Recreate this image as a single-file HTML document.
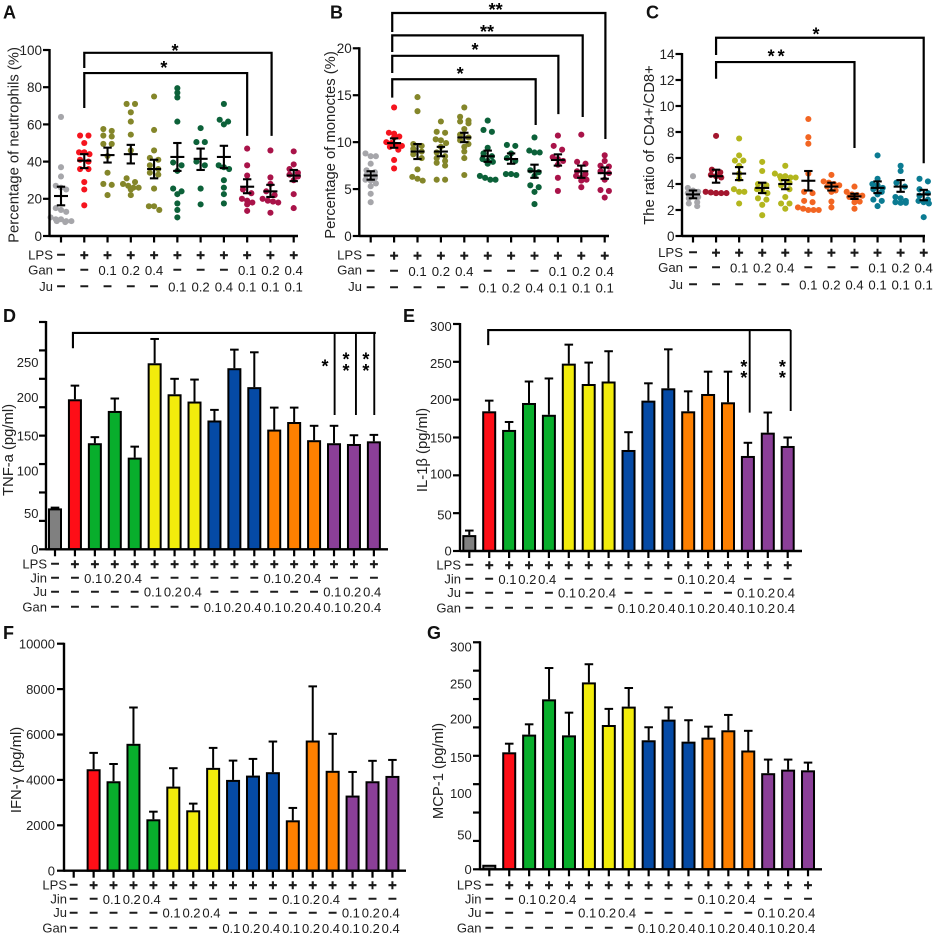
<!DOCTYPE html>
<html lang="en">
<head>
<meta charset="utf-8">
<title>Inflammation panels A–G</title>
<style>
html,body{margin:0;padding:0;background:#fff;width:934px;height:935px;overflow:hidden}
svg{display:block;font-family:"Liberation Sans",Arial,sans-serif}
.letter{font-size:18px;font-weight:bold;fill:#111}
.ytitle{font-size:14.8px;fill:#222;text-anchor:middle}
.rowlab{font-size:13.2px;fill:#222;text-anchor:end}
.rowlab2{font-size:13px;fill:#222;text-anchor:end}
</style>
</head>
<body>
<svg id="figure" xmlns="http://www.w3.org/2000/svg" width="934" height="935" viewBox="0 0 934 935">
<rect width="934" height="935" fill="#fff"/>

<g id="panel-a">
<text class="letter" x="3" y="18.5">A</text>
<text class="ytitle" transform="translate(18.5,145) rotate(-90)">Percentage of neutrophils (%)</text>
<text class="rowlab" x="53" y="259.5">LPS</text>
<text class="rowlab" x="53" y="274.5">Gan</text>
<text class="rowlab" x="53" y="291">Ju</text>
</g>

<g id="panel-b">
<text class="letter" x="330" y="18.5">B</text>
<text class="ytitle" transform="translate(335,145) rotate(-90)">Percentage of monoctes (%)</text>
<text class="rowlab" x="362" y="259.5">LPS</text>
<text class="rowlab" x="362" y="274.5">Gan</text>
<text class="rowlab" x="362" y="291">Ju</text>
</g>

<g id="panel-c">
<text class="letter" x="646" y="18.5">C</text>
<text class="ytitle" transform="translate(654,145) rotate(-90)">The ratio of CD4+/CD8+</text>
<text class="rowlab" x="683" y="257">LPS</text>
<text class="rowlab" x="683" y="272">Gan</text>
<text class="rowlab" x="683" y="289">Ju</text>
</g>

<g id="panel-d">
<text class="letter" x="3" y="322">D</text>
<text class="ytitle" transform="translate(13,450) rotate(-90)">TNF-a (pg/ml)</text>
<text class="rowlab2" x="47" y="568.5">LPS</text>
<text class="rowlab2" x="47" y="582.5">Jin</text>
<text class="rowlab2" x="47" y="596">Ju</text>
<text class="rowlab2" x="47" y="611.5">Gan</text>
</g>

<g id="panel-e">
<text class="letter" x="403" y="322">E</text>
<text class="ytitle" transform="translate(427,450) rotate(-90)">IL-1β (pg/ml)</text>
<text class="rowlab2" x="461" y="569.5">LPS</text>
<text class="rowlab2" x="461" y="583.5">Jin</text>
<text class="rowlab2" x="461" y="597">Ju</text>
<text class="rowlab2" x="461" y="612.5">Gan</text>
</g>

<g id="panel-f">
<text class="letter" x="3" y="639">F</text>
<text class="ytitle" transform="translate(21,770) rotate(-90)">IFN-γ (pg/ml)</text>
<text class="rowlab2" x="67" y="889.5">LPS</text>
<text class="rowlab2" x="67" y="903.5">Jin</text>
<text class="rowlab2" x="67" y="917">Ju</text>
<text class="rowlab2" x="67" y="932.5">Gan</text>
</g>

<g id="panel-g">
<text class="letter" x="427" y="639">G</text>
<text class="ytitle" transform="translate(443,771) rotate(-90)">MCP-1 (pg/ml)</text>
<text class="rowlab2" x="481.5" y="889.5">LPS</text>
<text class="rowlab2" x="481.5" y="903.5">Jin</text>
<text class="rowlab2" x="481.5" y="917">Ju</text>
<text class="rowlab2" x="481.5" y="932.5">Gan</text>
</g>
</svg>

<script>
/* ---------- Dose tables ---------- */
const dotLps = ['-','+','+','+','+','+','+','+','+','+','+'];
const dotGan = ['-','-','0.1','0.2','0.4','-','-','-','0.1','0.2','0.4'];
const dotJu  = ['-','-','-','-','-','0.1','0.2','0.4','0.1','0.1','0.1'];
const barLps = ['-','+','+','+','+','+','+','+','+','+','+','+','+','+','+','+','+'];
const barJin = ['-','-','0.1','0.2','0.4','-','-','-','-','-','-','0.1','0.2','0.4','-','-','-'];
const barJu  = ['-','-','-','-','-','0.1','0.2','0.4','-','-','-','-','-','-','0.1','0.2','0.4'];
const barGan = ['-','-','-','-','-','-','-','-','0.1','0.2','0.4','0.1','0.2','0.4','0.1','0.2','0.4'];

/* ---------- Panel A values ---------- */
const aPoints = [
 [64,37,32,27,26,25,15,14,13,10,9,9,8,8,8,7.5],
 [54,54,50,45,45,44,41,40,36,36,29,25,16.5],
 [57.5,56.5,54,53.5,49.5,49.5,43,34,28,27.5,22],
 [71,71,66.5,61.5,54.5,46,31,29,28,27,26,26,25,22],
 [75,57,46,42,41,38,36,34,33,25.5,16,16,14],
 [79.5,77,74.5,61.5,39.5,38,35,25.5,24,22.5,17.5,14,10],
 [58,50.5,50.5,40,38,25.5,17],
 [71,62.5,61.5,60,38,37,36,30,26,22.5,17.5],
 [47,38,32.5,25,23,20,19,18,17,13.5],
 [46,31.5,28,24,22,20,19,18.5,18,12.5],
 [45.5,38.5,36,34,33,32,30,22.5,15]
];
const aMeans = [21.5,40.5,43.5,44,36,42.5,41.5,42.5,26.5,24,32.5];
const aLow   = [16.5,36.5,39.5,39,31,35,35.5,36.5,23,21,29.5];
const aHigh  = [26.5,44,47.5,49,41,50,47,48.5,30.5,27.5,35.5];
const aTicks = [0,20,40,60,80,100];

/* ---------- Panel B values ---------- */
const bPoints = [
 [8.8,8.5,8.5,7.7,7,6.8,6.5,6.2,6,5.9,5.6,5.3,4.5,3.6],
 [13.7,11,10.9,10.6,10.5,10,9.9,9.7,9.6,9.5,9.2,8.1,7.2],
 [14.8,13.3,9.8,9.6,9.3,9,8.7,8.3,7.1,6.3,6.1,5.9],
 [12.2,11.1,11,10.3,10.2,9.9,9.5,8.9,8.5,8.3,8,7.8,7.5,6,6],
 [13.7,12.7,12.3,12.2,12,11.4,10.8,10.5,10.2,9.8,9.5,9,8.3,6.5],
 [12.3,11.3,11.1,9.4,8.8,8.5,8.2,8,7.9,7.7,6.4,6.2,6,6],
 [9.7,9.6,8.8,8.3,8,6.6,6.6,6.5],
 [10.5,9.1,8.9,8.9,7,6.8,6.4,5.4,5.2,4.7,3.4],
 [10.7,9.6,9.2,8.4,8.2,8,7.6,6.2,4.8],
 [10.8,7.9,7.7,6.9,6.6,6.4,6.2,6,5.9,5.2],
 [8.6,8,7.5,7.4,6.9,6.7,6,4.9,4.8,4.1]
];
const bMeans = [6.45,9.9,9,9,10.5,8.5,8.2,6.9,8.1,6.9,6.7];
const bLow   = [6,9.4,8.2,8.5,10,7.9,7.7,6.2,7.5,6.2,6.1];
const bHigh  = [6.9,10.4,9.8,9.5,11,9.1,8.8,7.6,8.7,7.5,7.3];
const bTicks = [0,5,10,15,20];

/* ---------- Panel C values ---------- */
const cPoints = [
 [4.6,3.7,3.5,3.4,3.3,3.1,3,2.9,2.6,2.5,2.3],
 [7.7,5.1,4.9,4.7,4.6,4.5,3.4,3.35,3.3,3.3,3.3,3.3],
 [7.5,6.2,5.8,5.8,5.4,4.8,4.4,3.6,3.4,3.4,2.5],
 [5.7,5,4,3.9,3.6,3.5,3.3,2.9,2.8,2.4,1.6],
 [5.4,4.8,4.6,4.6,4.5,4.5,4.4,4.1,3.9,3.6,3,2.5,2.5,2.1],
 [9,7.6,7.1,4.8,3.4,3.3,2.7,2.6,2.2,2.1,2,2,2],
 [4.7,4.2,4.1,4,3.9,3.8,3.5,3.4,2.65,2.2],
 [3.8,3.4,3.2,3.15,3.1,3,2.9,2.65,2.6,2.1],
 [6.2,4.4,4,3.9,3.7,3.6,3.4,3.2,2.8,2.7,2.3],
 [5.4,5,4.1,3.8,3,2.9,2.7,2.6,2.55,2.55],
 [4.4,4.2,3.6,3.3,3.1,2.8,2.7,2.6,2.5,1.45]
];
const cMeans = [3.2,4.6,4.8,3.7,4,4.25,3.8,3.05,3.7,3.8,3.2];
const cLow   = [2.9,4.1,4.3,3.3,3.6,3.5,3.5,2.85,3.3,3.4,2.75];
const cHigh  = [3.5,5.1,5.3,4.1,4.3,5,4.1,3.25,4.2,4.3,3.55];
const cTicks = [0,2,4,6,8,10,12,14];

/* ---------- Panel D values ---------- */
const dMeans = [54,198,140,182.6,121,245.5,204.6,195,170,239,214,158,168,144,140,139,142.5];
const dError = [55,216,148,199,135.5,277.6,225,224,184,263.5,260,187,187,163,163,150.5,151];
const dTicks = [0,37.5,75,112.5,150,187.5,225,262.5,300];
const dTickLabels = ['0','50','100','150','200','250'];
const dTickLabelAt = [0,47.5,103.8,149.6,200.6,247];

/* ---------- Panel E values ---------- */
const eMeans = [21,184.6,160,195.6,180,247.6,220.7,224,133.5,198.7,215,184.6,207.5,196.5,125.6,156.4,138.8];
const eError = [27,198.7,170.5,224,228,272.7,249,264,157,221.6,266.5,211,237,237,143,183,150];
const eTicks = [0,50,100,150,200,250,300];
const eTickLabels = ['0','50','100','150','200','250','300'];
const eTickLabelAt = [0,47.6,101.8,149.8,200.4,248,297];

/* ---------- Panel F values ---------- */
const fMeans = [0,4470,3940,5590,2265,3705,2660,4530,4000,4190,4340,2220,5735,4400,3310,3940,4175];
const fError = [0,5190,4700,7190,2600,4515,2955,5410,4850,4925,5690,2765,8120,6030,4350,4840,4880];
const fTicks = [0,2000,4000,6000,8000,10000];
const fTickLabels = ['0','2000','4000','6000','8000','10000'];
const fTickLabelAt = [0,2000,4000,6000,8000,10000];

/* ---------- Panel G values ---------- */
const gMeans = [6,154.6,178,224.6,177,247,190.7,215,170.5,197.8,168.7,174,183.7,157,127,131.7,130.8];
const gError = [6,166,191.6,266,207,271,212,239.6,187.7,214,197,188.5,204,183,145,145,141];
const gTicks = [0,37.5,75,112.5,150,187.5,225,262.5,300];
const gTickLabels = ['0','50','100','150','200','250','300'];
const gTickLabelAt = [0,45.4,100.4,148,198.7,245,294];

/* ---------- Styling ---------- */
const abColors = ['#a6a6aa','#f5141e','#84862a','#84862a','#84862a','#0c6139','#0c6139','#0c6139','#a91349','#a91349','#a91349'];
const cColors  = ['#a6a6aa','#a3162e','#b3b61e','#b3b61e','#b3b61e','#f26522','#f26522','#f26522','#0b7b92','#0b7b92','#0b7b92'];
const barColors = ['#808080','#fe0e17','#08ae2c','#08ae2c','#08ae2c','#f2ec0c','#f2ec0c','#f2ec0c','#054aa5','#054aa5','#054aa5','#fe8000','#fe8000','#fe8000','#8b3f98','#8b3f98','#8b3f98'];

const NS = 'http://www.w3.org/2000/svg';
function mk(tag, attrs, parent, txt) {
  const el = document.createElementNS(NS, tag);
  for (const k in attrs) el.setAttribute(k, attrs[k]);
  if (txt !== undefined) el.textContent = txt;
  parent.appendChild(el);
  return el;
}
function line(parent, x1, y1, x2, y2, w) {
  return mk('line', {x1:x1, y1:y1, x2:x2, y2:y2, stroke:'#000', 'stroke-width':w, 'stroke-linecap':'butt'}, parent);
}

function drawAxes(p, g, ticks, xEnd, tickLen) {
  const yAxis = line(g, p.axisX, p.y(ticks[ticks.length-1]) - 1, p.axisX, p.y(0) + 1, 2.4);
  
  
  const xAxis = line(g, p.axisX, p.y(0), xEnd, p.y(0), 2.4);
  
  
  ticks.forEach(function (t) {
    const tk = line(g, p.axisX - tickLen, p.y(t), p.axisX, p.y(t), 2.2);
    
    
  });
  p.cats.forEach(function (_, i) {
    const tk = line(g, p.x(i), p.y(0), p.x(i), p.y(0) + tickLen, 2.2);
    
    
  });
}

function drawTickLabels(g, labels, at, y, right, size) {
  labels.forEach(function (s, i) {
    const t = mk('text', {x:right, y:y(at[i]) + size*0.36, 'font-size':size, fill:'#222', 'text-anchor':'end'}, g, s);
    
    
  });
}

function drawRow(g, values, xf, cy, numDx, size, rowName) {
  values.forEach(function (v, i) {
    let y, fs, weight, ch, dx = 0, sw = 0;
    if (v === '-') { ch = '–'; fs = 15; weight = 'bold'; y = cy + 3.8; sw = 0.45; }
    else if (v === '+') { ch = '+'; fs = 15; weight = 'bold'; y = cy + 5.1; sw = 0.4; }
    else { ch = v; fs = size; weight = 'normal'; y = cy + size*0.36; dx = numDx; }
    const t = mk('text', {x:xf(i) + dx, y:y, 'font-size':fs, 'font-weight':weight, fill:'#1a1a1a', stroke:'#1a1a1a', 'stroke-width':sw, 'text-anchor':'middle'}, g, ch);
    
    
  });
}

/* Prism-style scatter: values close in height share a bin and spread symmetrically */
function swarm(vals, y) {
  const sorted = vals.slice().sort(function (a, b) { return b - a; });
  const bins = [];
  sorted.forEach(function (v) {
    const py = y(v);
    const last = bins[bins.length - 1];
    if (last && py - last[0] < 4.6 && last.length < 5) last.push(py);
    else bins.push([py]);
  });
  const placed = [];
  bins.forEach(function (bin) {
    const n = bin.length;
    const spacing = n === 2 ? 8.4 : 5.2;
    bin.forEach(function (py, j) {
      placed.push({off:(j - (n - 1)/2)*spacing, py:py});
    });
  });
  return placed;
}

function drawBracket(g, b, x, y, w) {
  const top = y(b.level), xl = x(b.from), xr = x(b.to);
  const path = mk('path', {d:'M' + xl + ' ' + y(b.leftEnd) + 'V' + top + 'H' + xr + 'V' + y(b.rightEnd), fill:'none', stroke:'#000', 'stroke-width':w}, g);
  
  
}
function drawStar(g, s, x, y) {
  const t = mk('text', {x:x(s.at), y:y(s.val) + 11, 'font-size':18, 'font-weight':'bold', fill:'#000', 'text-anchor':'middle', 'letter-spacing':s.sp || 0}, g, s.text);
  
  
}

function drawDots(id, c) {
  const g = document.getElementById(id);
  const x = function (i) { return c.x0 + c.dx*i; };
  const y = function (v) { return c.y0 - v*c.k; };
  const p = {axisX:c.axisX, x:x, y:y, cats:c.points};
  c.points.forEach(function (vals, i) {
    const pos = swarm(vals, y);
    pos.forEach(function (q) {
      const dot = mk('circle', {cx:x(i) + q.off, cy:q.py, r:3.05, fill:c.colors[i]}, g);
      
      
    });
  });
  c.means.forEach(function (m, i) {
    const stem = line(g, x(i), y(c.high[i]), x(i), y(c.low[i]), 2.1);
    
    
    const capHi = line(g, x(i) - 4.2, y(c.high[i]), x(i) + 4.2, y(c.high[i]), 2.1);
    
    
    const capLo = line(g, x(i) - 4.2, y(c.low[i]), x(i) + 4.2, y(c.low[i]), 2.1);
    
    
    const mean = line(g, x(i) - 7, y(m), x(i) + 7, y(m), 2.1);
    
    
  });
  drawAxes(p, g, c.ticks, c.xEnd, 6.5);
  drawTickLabels(g, c.ticks.map(String), c.ticks, y, c.axisX - 7.5, 13.5);
  drawRow(g, c.rows[0], x, c.rowY[0], 0, 13.2, 'lps');
  drawRow(g, c.rows[1], x, c.rowY[1], 0, 13.2, 'gan');
  drawRow(g, c.rows[2], x, c.rowY[2], 0, 13.2, 'ju');
  c.brackets.forEach(function (b) { drawBracket(g, b, x, y, 2.2); });
  c.stars.forEach(function (s) { drawStar(g, s, x, y); });
}

function drawBars(id, c) {
  const g = document.getElementById(id);
  const x = function (i) { return c.x0 + c.dx*i; };
  const y = function (v) { return c.y0 - v*c.k; };
  const p = {axisX:c.axisX, x:x, y:y, cats:c.means};
  c.means.forEach(function (m, i) {
    if (m > 0) {
      if (c.err[i] > m) {
        const stem = line(g, x(i), y(c.err[i]), x(i), y(m), 2);
        
        
        const cap = line(g, x(i) - 4.3, y(c.err[i]), x(i) + 4.3, y(c.err[i]), 2);
        
        
      }
      const bar = mk('rect', {x:x(i) - 6, y:y(m) + 1, width:12, height:Math.max(0, c.y0 - y(m) - 1), fill:c.colors[i], stroke:'#000', 'stroke-width':2}, g);
      
      
    }
  });
  drawAxes(p, g, c.ticks, c.xEnd, 7);
  drawTickLabels(g, c.tickLabels, c.tickLabelAt, y, c.labelRight, 13);
  drawRow(g, c.rows[0], x, c.rowY[0], -1.7, 13, 'lps');
  drawRow(g, c.rows[1], x, c.rowY[1], -1.7, 13, 'jin');
  drawRow(g, c.rows[2], x, c.rowY[2], -1.7, 13, 'ju');
  drawRow(g, c.rows[3], x, c.rowY[3], -1.7, 13, 'gan');
  if (c.bracket) {
    const bk = c.bracket;
    const hp = mk('path', {d:'M' + x(bk.from) + ' ' + y(bk.leftEnd) + 'V' + y(bk.level) + 'H' + x(bk.to), fill:'none', stroke:'#000', 'stroke-width':2.1}, g);
    
    
    bk.drops.forEach(function (d) {
      const v = line(g, x(d.at), y(bk.level), x(d.at), y(d.end), 1.9);
      
      
    });
    c.stars.forEach(function (s) { drawStar(g, s, x, y); });
  }
}

drawDots('panel-a', {
  x0:61, dx:23.27, y0:236, k:1.86, axisX:49.5, xEnd:298,
  points:aPoints, means:aMeans, low:aLow, high:aHigh, ticks:aTicks, colors:abColors,
  rows:[dotLps, dotGan, dotJu], rowY:[255, 270, 286.5],
  brackets:[
    {from:1, to:9.05, level:98.5, leftEnd:90.3, rightEnd:53.8},
    {from:1, to:8, level:87.6, leftEnd:68.8, rightEnd:53.8}
  ],
  stars:[{at:4.9, val:102.2, text:'*'}, {at:4.42, val:93, text:'*'}]
});
drawDots('panel-b', {
  x0:370.7, dx:23.4, y0:236, k:9.385, axisX:359.3, xEnd:609,
  points:bPoints, means:bMeans, low:bLow, high:bHigh, ticks:bTicks, colors:abColors,
  rows:[dotLps, dotGan, dotJu], rowY:[255.5, 271, 287.5],
  brackets:[
    {from:0.92, to:10.03, level:23.76, leftEnd:21.74, rightEnd:10.34},
    {from:0.92, to:9.06, level:21.38, leftEnd:19.6, rightEnd:12.68},
    {from:0.92, to:8.02, level:19.2, leftEnd:17.37, rightEnd:12.98},
    {from:0.92, to:7.05, level:16.7, leftEnd:14.74, rightEnd:11.83}
  ],
  stars:[
    {at:5.34, val:24.6, text:'**'}, {at:4.97, val:22.27, text:'**'},
    {at:4.46, val:20.35, text:'*'}, {at:3.82, val:17.8, text:'*'}
  ]
});
drawDots('panel-c', {
  x0:693, dx:23.07, y0:236, k:13, axisX:682, xEnd:925,
  points:cPoints, means:cMeans, low:cLow, high:cHigh, ticks:cTicks, colors:cColors,
  rows:[dotLps, dotGan, dotJu], rowY:[252.5, 267.5, 284.5],
  brackets:[
    {from:1, to:10, level:15.25, leftEnd:13.92, rightEnd:5.6},
    {from:1, to:7, level:13.38, leftEnd:12.1, rightEnd:6.77}
  ],
  stars:[{at:5.33, val:15.9, text:'*'}, {at:3.58, val:14.2, text:'* *', sp:-1}]
});

const dStars = [
  {at:13.55, val:248, text:'*'},
  {at:14.6, val:257, text:'*'}, {at:14.6, val:242, text:'*'},
  {at:15.6, val:257, text:'*'}, {at:15.6, val:242, text:'*'}
];
const eStars = [
  {at:13.8, val:250, text:'*'}, {at:13.8, val:235.5, text:'*'},
  {at:15.73, val:250, text:'*'}, {at:15.73, val:235.5, text:'*'}
];
drawBars('panel-d', {
  x0:55, dx:19.93, y0:549.3, k:0.7577, axisX:46, xEnd:388, labelRight:38.5,
  means:dMeans, err:dError, colors:barColors, ticks:dTicks, tickLabels:dTickLabels, tickLabelAt:dTickLabelAt,
  rows:[barLps, barJin, barJu, barGan], rowY:[564, 578.3, 592, 607.3],
  bracket:{from:0.9, to:16.1, level:285.5, leftEnd:265.3, drops:[{at:14.03, end:177.3}, {at:15.1, end:177.3}, {at:16.02, end:177.3}]},
  stars:dStars
});
drawBars('panel-e', {
  x0:469.3, dx:19.9, y0:551, k:0.7567, axisX:460, xEnd:802, labelRight:451.7,
  means:eMeans, err:eError, colors:barColors, ticks:eTicks, tickLabels:eTickLabels, tickLabelAt:eTickLabelAt,
  rows:[barLps, barJin, barJu, barGan], rowY:[565, 579.3, 593, 608.3],
  bracket:{from:0.95, to:16.15, level:292, leftEnd:272, drops:[{at:14.09, end:182.8}, {at:16.15, end:185}]},
  stars:eStars
});
drawBars('panel-f', {
  x0:73.7, dx:19.92, y0:870.7, k:0.0227, axisX:64, xEnd:406, labelRight:55,
  means:fMeans, err:fError, colors:barColors, ticks:fTicks, tickLabels:fTickLabels, tickLabelAt:fTickLabelAt,
  rows:[barLps, barJin, barJu, barGan], rowY:[885, 899.3, 913, 928.3]
});
drawBars('panel-g', {
  x0:489.3, dx:19.92, y0:869.3, k:0.7567, axisX:480, xEnd:822, labelRight:471.7,
  means:gMeans, err:gError, colors:barColors, ticks:gTicks, tickLabels:gTickLabels, tickLabelAt:gTickLabelAt,
  rows:[barLps, barJin, barJu, barGan], rowY:[885, 899.3, 913, 928.3]
});
</script>
</body>
</html>
